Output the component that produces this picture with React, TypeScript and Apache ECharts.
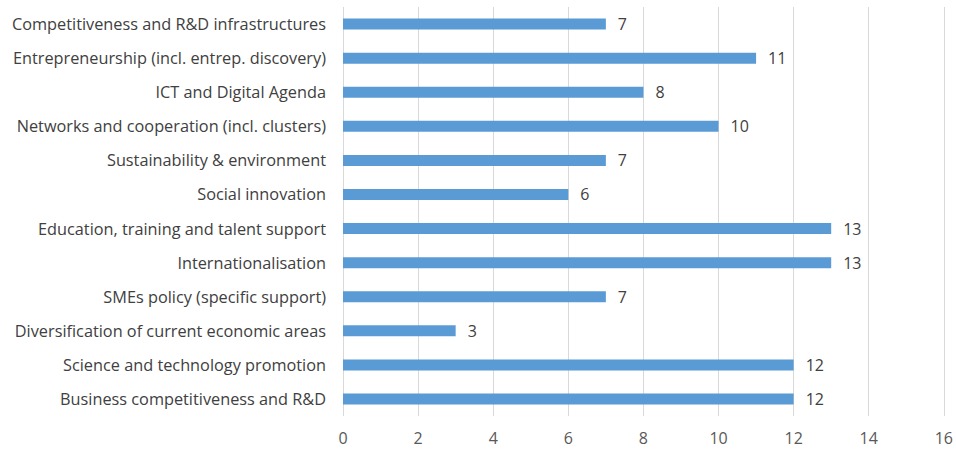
import React, { useEffect, useRef } from "react";
import * as echarts from "echarts";

const categories = [
  "Competitiveness and R&D infrastructures",
  "Entrepreneurship (incl. entrep. discovery)",
  "ICT and Digital Agenda",
  "Networks and cooperation (incl. clusters)",
  "Sustainability & environment",
  "Social innovation",
  "Education, training and talent support",
  "Internationalisation",
  "SMEs policy (specific support)",
  "Diversification of current economic areas",
  "Science and technology promotion",
  "Business competitiveness and R&D",
];
const values = [7, 11, 8, 10, 7, 6, 13, 13, 7, 3, 12, 12];
const xTicks = { min: 0, max: 16, interval: 2 };

const FONT = "'Open Sans', 'Liberation Sans', sans-serif";

export default function App() {
  const ref = useRef<HTMLDivElement>(null);
  useEffect(() => {
    if (!ref.current) return;
    const chart = echarts.init(ref.current, undefined, { renderer: "svg" });
    chart.setOption({
      animation: false,
      grid: { left: 343, right: 11, top: 7, bottom: 35, containLabel: false },
      xAxis: {
        type: "value",
        min: xTicks.min,
        max: xTicks.max,
        interval: xTicks.interval,
        axisLine: { show: false },
        axisTick: { show: false },
        splitLine: { show: true, lineStyle: { color: "#d9d9d9", width: 1 } },
        axisLabel: { color: "#595959", fontSize: 16, fontFamily: FONT, margin: 14 },
      },
      yAxis: {
        type: "category",
        data: categories,
        inverse: true,
        axisLine: { show: false },
        axisTick: { show: false },
        axisLabel: { color: "#404040", fontSize: 16.3, fontFamily: FONT, margin: 17 },
      },
      series: [
        {
          type: "bar",
          data: values,
          barWidth: 11,
          itemStyle: { color: "#5b9bd5" },
          label: {
            show: true,
            position: "right",
            distance: 12,
            color: "#404040",
            fontSize: 16,
            fontFamily: FONT,
          },
        },
      ],
    });
    return () => chart.dispose();
  }, []);
  return (
    <div
      ref={ref}
      style={{ position: "fixed", left: 0, top: 0, width: 956, height: 451, background: "#fff" }}
    />
  );
}
